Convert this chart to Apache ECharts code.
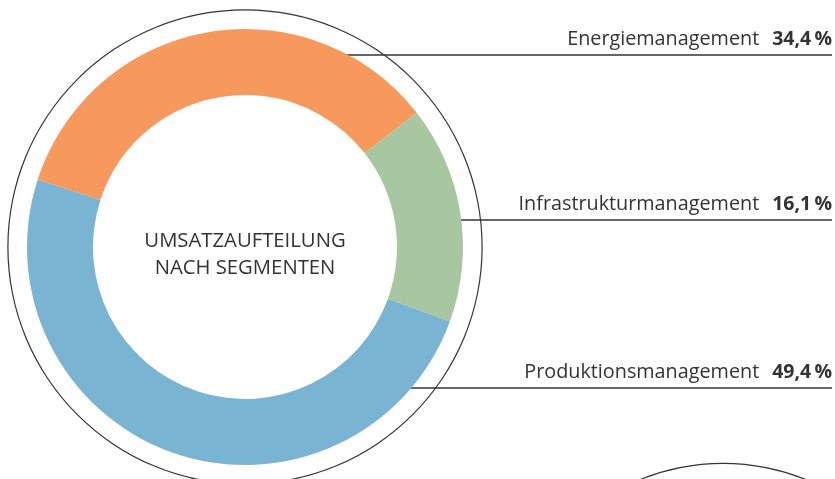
<!DOCTYPE html>
<html>
<head>
<meta charset="utf-8">
<script src="https://cdn.jsdelivr.net/npm/echarts@6/dist/echarts.min.js"></script>
<style>
  html, body { margin: 0; padding: 0; background: #fff; }
  #chart { width: 835px; height: 479px; }
</style>
</head>
<body>
<div id="chart"></div>
<script>
// Segmente und Anteile (%)
const segments = ["Energiemanagement", "Infrastrukturmanagement", "Produktionsmanagement"];
const shares = [34.4, 16.1, 49.4];
const colors = ["#f7985c", "#a6c7a0", "#79b4d2"];
const centerTitle = "UMSATZAUFTEILUNG\nNACH SEGMENTEN";

// Layout
const cx = 245, cy = 247;
const rInner = 152, rOuter = 218;
const lineY = [55, 220, 388]; // Hoehe der Hinweislinien
const rightX = 832;

const chart = echarts.init(document.getElementById("chart"), null, { renderer: "canvas" });

function fmt(v) {
  return v.toFixed(1).replace(".", ",") + "\u2009%";
}

const option = {
  animation: false,
  textStyle: { fontFamily: "Open Sans" },
  series: [
    // duenner Aussenring
    {
      type: "pie",
      silent: true,
      center: [cx, cy],
      radius: [236.5, 237.7],
      label: { show: false },
      labelLine: { show: false },
      itemStyle: { color: "#333" },
      data: [{ value: 1 }],
    },
    // angeschnittener Kreis rechts unten
    {
      type: "pie",
      silent: true,
      center: [723, 684],
      radius: [220, 221.2],
      label: { show: false },
      labelLine: { show: false },
      itemStyle: { color: "#333" },
      data: [{ value: 1 }],
    },
    {
      type: "pie",
      center: [cx, cy],
      radius: [rInner, rOuter],
      startAngle: 162,
      clockwise: true,
      silent: true,
      emphasis: { disabled: true },
      label: {
        show: true,
        position: "outside",
        overflow: "none",
        formatter: (p) => "{n|" + p.name + "}{v|" + fmt(p.value) + "}",
        rich: {
          n: { fontSize: 19.8, color: "#333", fontFamily: "Open Sans" },
          v: { fontSize: 19.5, color: "#333", fontWeight: "bold", fontFamily: "Open Sans", padding: [0, 0, 0, 13] },
        },
      },
      labelLine: {
        show: true,
        lineStyle: { color: "#333", width: 1.3 },
      },
      labelLayout: (params) => {
        const i = params.dataIndex;
        const ly = lineY[i];
        const dy = ly - cy;
        const sx = cx + Math.sqrt(rOuter * rOuter - dy * dy) - 2;
        return {
          x: rightX,
          y: ly - 16,
          align: "right",
          verticalAlign: "middle",
          labelLinePoints: [
            [sx, ly],
            [sx + 1, ly],
            [rightX, ly],
          ],
        };
      },
      data: segments.map((name, i) => ({
        name: name,
        value: shares[i],
        itemStyle: { color: colors[i] },
      })),
    },
  ],
  graphic: [
    {
      type: "text",
      x: cx,
      y: cy + 8,
      style: {
        text: centerTitle,
        align: "center",
        verticalAlign: "middle",
        fontSize: 20.3,
        lineHeight: 27,
        fill: "#333",
        fontFamily: "Open Sans",
      },
    },
  ],
};

chart.setOption(option);
</script>
</body>
</html>
